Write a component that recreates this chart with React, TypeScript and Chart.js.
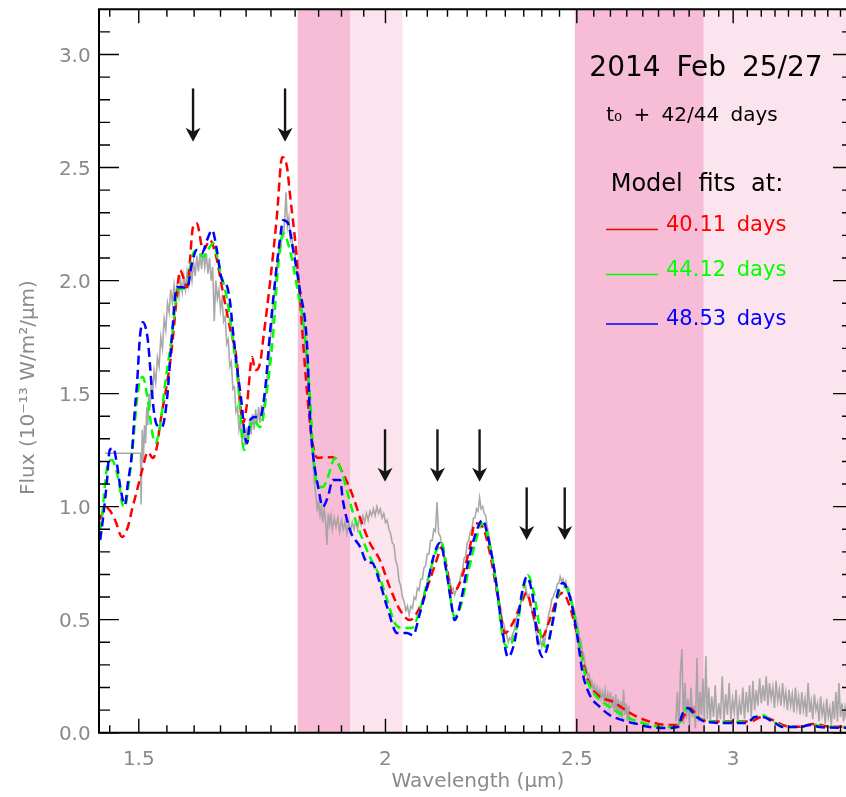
import React, { useEffect, useRef } from "react";
import { Chart, registerables } from "chart.js";

Chart.register(...registerables);

// ---------------- data ----------------
const xRange = [1.432, 3.45];
const yRange = [0, 3.2];

const xMajorTicks = [1.5, 2, 2.5, 3];
const xMajorLabels = ["1.5", "2", "2.5", "3"];
const xMinorTicks = [1.45, 1.55, 1.6, 1.65, 1.7, 1.75, 1.8, 1.85, 1.9, 1.95, 2.05, 2.1, 2.15, 2.2, 2.25, 2.3, 2.35, 2.4, 2.45, 2.55, 2.6, 2.65, 2.7, 2.75, 2.8, 2.85, 2.9, 2.95, 3.05, 3.1, 3.15, 3.2, 3.25, 3.3, 3.35, 3.4];
const yMajorTicks = [0, 0.5, 1, 1.5, 2, 2.5, 3];
const yMajorLabels = ["0.0", "0.5", "1.0", "1.5", "2.0", "2.5", "3.0"];
const yMinorTicks = [0.1, 0.2, 0.3, 0.4, 0.6, 0.7, 0.8, 0.9, 1.1, 1.2, 1.3, 1.4, 1.6, 1.7, 1.8, 1.9, 2.1, 2.2, 2.3, 2.4, 2.6, 2.7, 2.8, 2.9, 3.1];

const bandStart = [1.8055, 1.919, 2.494, 2.899];
const bandEnd = [1.919, 2.04, 2.899, 3.45];
const bandKind = ["strong", "weak", "strong", "weak"];

const arrowWave = [1.598, 1.779, 1.999, 2.125, 2.232, 2.358, 2.465];
const arrowTop = [2.85, 2.85, 1.342, 1.342, 1.342, 1.085, 1.085];
const arrowTip = [2.614, 2.614, 1.11, 1.11, 1.11, 0.852, 0.852];

const titleText = "2014 Feb 25/27";
const epochText = "t\u2080 + 42/44 days";
const legendTitle = "Model fits at:";
const seriesLabels = ["40.11 days", "44.12 days", "48.53 days"];
const xTitle = "Wavelength (\u00B5m)";
const yTitle = "Flux (10\u207B\u00B9\u00B3 W/m\u00B2/\u00B5m)";

const observed: [number, number | null][] = [
  [1.442, 1.236], [1.503, 1.236], [1.504, 1.01], [1.506, 1.34], [1.508, 1.2], [1.51, 1.36], [1.512, 1.28], [1.514, 1.44],
  [1.516, 1.36], [1.518, 1.5], [1.52, 1.44], [1.522, 1.56], [1.524, 1.49], [1.527, 1.6], [1.53, 1.55], [1.533, 1.66],
  [1.536, 1.62], [1.539, 1.75], [1.542, 1.7], [1.545, 1.83], [1.548, 1.78], [1.551, 1.9], [1.554, 1.86], [1.557, 1.96],
  [1.56, 1.9], [1.563, 1.98], [1.566, 1.92], [1.569, 1.99], [1.572, 1.93], [1.575, 2.0], [1.578, 1.95], [1.581, 2.02],
  [1.584, 1.96], [1.587, 2.04], [1.59, 1.98], [1.593, 2.06], [1.596, 2.0], [1.599, 2.08], [1.602, 2.02], [1.605, 2.11],
  [1.608, 2.04], [1.611, 2.12], [1.614, 2.05], [1.617, 2.13], [1.62, 2.06], [1.623, 2.12], [1.626, 2.03], [1.629, 2.1],
  [1.632, 2.0], [1.635, 2.06], [1.638, 1.82], [1.641, 2.0], [1.644, 1.92], [1.647, 1.96], [1.65, 1.87], [1.653, 1.92],
  [1.656, 1.82], [1.659, 1.84], [1.662, 1.72], [1.665, 1.74], [1.668, 1.62], [1.671, 1.64], [1.674, 1.52], [1.677, 1.53],
  [1.68, 1.42], [1.683, 1.44], [1.686, 1.34], [1.689, 1.38], [1.692, 1.28], [1.695, 1.34], [1.698, 1.27], [1.701, 1.35],
  [1.704, 1.29], [1.707, 1.38], [1.71, 1.32], [1.713, 1.41], [1.716, 1.34], [1.719, 1.43], [1.722, 1.36], [1.725, 1.44],
  [1.728, 1.37], [1.731, 1.45], [1.734, 1.39], [1.737, 1.48], [1.74, 1.5], [1.743, 1.6], [1.746, 1.63], [1.749, 1.75],
  [1.752, 1.8], [1.755, 1.92], [1.758, 1.96], [1.761, 2.06], [1.764, 2.08], [1.767, 2.16], [1.77, 2.14], [1.773, 2.22],
  [1.776, 2.2], [1.779, 2.3], [1.781, 2.39], [1.784, 2.24], [1.787, 2.28], [1.79, 2.18], [1.793, 2.2], [1.796, 2.12],
  [1.799, 2.13], [1.802, 2.05], [1.805, 2.03], [1.808, 1.98], [1.811, 1.95], [1.814, 1.88], [1.817, 1.83], [1.82, 1.74],
  [1.823, 1.66], [1.826, 1.58], [1.829, 1.48], [1.832, 1.38], [1.835, 1.27], [1.838, 1.2], [1.841, 1.1], [1.844, 1.05],
  [1.847, 0.99], [1.85, 1.02], [1.853, 0.96], [1.856, 1.0], [1.859, 0.93], [1.862, 0.99], [1.865, 0.94], [1.868, 0.83],
  [1.871, 0.97], [1.874, 0.92], [1.877, 0.96], [1.88, 0.9], [1.884, 0.95], [1.888, 0.91], [1.892, 0.95], [1.896, 0.89],
  [1.9, 0.94], [1.904, 0.9], [1.908, 0.93], [1.912, 0.88], [1.916, 0.93], [1.92, 0.89], [1.924, 0.93], [1.928, 0.9],
  [1.932, 0.94], [1.936, 0.9], [1.94, 0.95], [1.944, 0.92], [1.948, 0.96], [1.952, 0.93], [1.956, 0.97], [1.96, 0.94],
  [1.964, 0.98], [1.968, 0.96], [1.972, 0.99], [1.976, 0.96], [1.98, 1.0], [1.984, 0.97], [1.988, 0.99], [1.992, 0.95],
  [1.996, 0.97], [2.0, 0.93], [2.004, 0.94], [2.008, 0.9], [2.012, 0.88], [2.016, 0.84], [2.02, 0.83], [2.024, 0.76],
  [2.028, 0.74], [2.032, 0.67], [2.036, 0.65], [2.04, 0.6], [2.044, 0.58], [2.048, 0.54], [2.052, 0.56], [2.056, 0.52],
  [2.06, 0.56], [2.064, 0.55], [2.068, 0.6], [2.072, 0.59], [2.076, 0.64], [2.08, 0.63], [2.084, 0.68], [2.088, 0.68],
  [2.092, 0.73], [2.096, 0.74], [2.1, 0.79], [2.104, 0.79], [2.108, 0.85], [2.112, 0.85], [2.116, 0.9], [2.12, 0.89],
  [2.124, 1.02], [2.128, 0.88], [2.132, 0.87], [2.136, 0.82], [2.14, 0.79], [2.144, 0.74], [2.148, 0.72], [2.152, 0.68],
  [2.156, 0.68], [2.16, 0.63], [2.164, 0.64], [2.168, 0.61], [2.172, 0.63], [2.176, 0.64], [2.18, 0.66], [2.184, 0.7],
  [2.188, 0.72], [2.192, 0.77], [2.196, 0.78], [2.2, 0.84], [2.204, 0.85], [2.208, 0.89], [2.212, 0.9], [2.216, 0.95],
  [2.22, 0.95], [2.224, 0.99], [2.228, 0.98], [2.232, 1.04], [2.236, 0.99], [2.24, 1.0], [2.244, 0.97], [2.248, 0.96],
  [2.252, 0.91], [2.256, 0.88], [2.26, 0.84], [2.264, 0.79], [2.268, 0.75], [2.272, 0.72], [2.276, 0.66], [2.28, 0.63],
  [2.284, 0.58], [2.288, 0.55], [2.292, 0.5], [2.296, 0.48], [2.3, 0.45], [2.304, 0.43], [2.308, 0.4], [2.312, 0.42],
  [2.316, 0.41], [2.32, 0.44], [2.324, 0.45], [2.328, 0.5], [2.332, 0.52], [2.336, 0.55], [2.34, 0.56], [2.344, 0.59],
  [2.348, 0.62], [2.352, 0.6], [2.356, 0.64], [2.36, 0.6], [2.364, 0.61], [2.368, 0.56], [2.372, 0.55], [2.376, 0.5],
  [2.38, 0.49], [2.384, 0.44], [2.388, 0.43], [2.392, 0.39], [2.396, 0.41], [2.4, 0.38], [2.404, 0.42], [2.408, 0.4],
  [2.412, 0.45], [2.416, 0.48], [2.42, 0.53], [2.424, 0.55], [2.428, 0.59], [2.432, 0.6], [2.436, 0.62], [2.44, 0.63],
  [2.444, 0.66], [2.448, 0.66], [2.452, 0.69], [2.456, 0.67], [2.46, 0.68], [2.464, 0.65], [2.468, 0.67], [2.472, 0.63],
  [2.476, 0.64], [2.48, 0.61], [2.484, 0.6], [2.488, 0.56], [2.492, 0.55], [2.496, 0.52], [2.5, 0.49], [2.504, 0.46],
  [2.508, 0.42], [2.512, 0.41], [2.516, 0.36], [2.52, 0.35], [2.524, 0.3], [2.528, 0.29], [2.532, 0.25], [2.536, 0.26],
  [2.54, 0.22], [2.544, 0.23], [2.548, 0.19], [2.552, 0.21], [2.556, 0.17], [2.56, 0.2], [2.564, 0.16], [2.568, 0.19],
  [2.572, 0.15], [2.576, 0.18], [2.58, 0.14], [2.584, 0.19], [2.588, 0.13], [2.592, 0.17], [2.596, 0.12], [2.6, 0.18],
  [2.604, 0.11], [2.608, 0.16], [2.612, 0.09], [2.616, 0.17], [2.62, 0.08], [2.624, 0.15], [2.628, 0.07], [2.632, 0.14],
  [2.636, 0.06], [2.64, 0.19], [2.644, 0.08], [2.648, 0.13], [2.652, 0.05], [2.656, 0.12], [2.66, 0.04],
  [2.73, null],
  [2.806, 0.05], [2.811, 0.18], [2.816, 0.02], [2.821, 0.26], [2.826, 0.37], [2.831, 0.04], [2.836, 0.22], [2.841, 0.06],
  [2.846, 0.15], [2.851, 0.03], [2.856, 0.2], [2.861, 0.07], [2.866, 0.12], [2.871, 0.02], [2.876, 0.33], [2.881, 0.05],
  [2.886, 0.18], [2.891, 0.08], [2.896, 0.24], [2.901, 0.04], [2.906, 0.34], [2.911, 0.06], [2.916, 0.2], [2.921, 0.05],
  [2.926, 0.16], [2.932, 0.07], [2.938, 0.21], [2.944, 0.04], [2.95, 0.13], [2.956, 0.06], [2.962, 0.25], [2.968, 0.05],
  [2.974, 0.17], [2.98, 0.08], [2.986, 0.22], [2.992, 0.06], [2.998, 0.15], [3.004, 0.09], [3.01, 0.19], [3.016, 0.05],
  [3.022, 0.14], [3.028, 0.08], [3.034, 0.2], [3.04, 0.06], [3.046, 0.18], [3.052, 0.09], [3.058, 0.21], [3.064, 0.07],
  [3.07, 0.23], [3.076, 0.1], [3.082, 0.19], [3.088, 0.12], [3.094, 0.24], [3.1, 0.13], [3.106, 0.21], [3.112, 0.14],
  [3.118, 0.25], [3.124, 0.12], [3.13, 0.22], [3.136, 0.15], [3.142, 0.2], [3.148, 0.11], [3.154, 0.23], [3.16, 0.14],
  [3.166, 0.19], [3.172, 0.12], [3.178, 0.22], [3.184, 0.13], [3.19, 0.18], [3.196, 0.1], [3.202, 0.19], [3.208, 0.12],
  [3.214, 0.17], [3.22, 0.09], [3.226, 0.2], [3.232, 0.11], [3.238, 0.16], [3.244, 0.08], [3.25, 0.18], [3.256, 0.1],
  [3.262, 0.15], [3.268, 0.07], [3.274, 0.22], [3.28, 0.09], [3.286, 0.14], [3.292, 0.06], [3.298, 0.17], [3.304, 0.1],
  [3.31, 0.13], [3.316, 0.05], [3.322, 0.16], [3.328, 0.08], [3.334, 0.12], [3.34, 0.04], [3.346, 0.15], [3.352, 0.07],
  [3.358, 0.11], [3.364, 0.03], [3.37, 0.14], [3.376, 0.06], [3.382, 0.18], [3.388, 0.05], [3.394, 0.22], [3.4, 0.07],
  [3.406, 0.13], [3.412, 0.05], [3.418, 0.11], [3.424, 0.06], [3.43, 0.12], [3.436, 0.04], [3.442, 0.1], [3.448, 0.05],
];

const fit4011: [number, number][] = [
  [1.432, 0.941], [1.445, 0.994], [1.459, 0.941], [1.471, 0.866], [1.481, 0.91], [1.488, 0.985], [1.497, 1.073],
  [1.506, 1.162], [1.516, 1.241], [1.525, 1.215], [1.532, 1.264], [1.538, 1.37], [1.547, 1.5], [1.556, 1.64],
  [1.561, 1.75], [1.568, 1.93], [1.574, 2.045], [1.587, 1.971], [1.598, 2.237], [1.605, 2.254], [1.617, 2.134],
  [1.63, 2.178], [1.641, 2.112], [1.655, 1.944], [1.668, 1.794], [1.682, 1.635], [1.688, 1.459], [1.694, 1.37],
  [1.702, 1.459], [1.712, 1.662], [1.718, 1.604], [1.728, 1.635], [1.734, 1.737], [1.748, 1.989], [1.762, 2.281],
  [1.773, 2.546], [1.783, 2.503], [1.789, 2.386], [1.802, 2.134], [1.812, 1.869], [1.823, 1.56], [1.836, 1.294],
  [1.847, 1.216], [1.868, 1.219], [1.881, 1.219], [1.903, 1.148], [1.923, 1.059], [1.946, 0.927], [1.964, 0.839],
  [1.987, 0.764], [2.01, 0.644], [2.034, 0.543], [2.058, 0.498], [2.082, 0.556], [2.106, 0.675], [2.123, 0.764],
  [2.136, 0.821], [2.148, 0.733], [2.161, 0.618], [2.181, 0.662], [2.207, 0.821], [2.22, 0.927], [2.24, 0.91],
  [2.259, 0.795], [2.28, 0.6], [2.299, 0.441], [2.32, 0.485], [2.339, 0.556], [2.358, 0.618], [2.375, 0.529],
  [2.4, 0.423], [2.422, 0.498], [2.445, 0.6], [2.459, 0.618], [2.48, 0.556], [2.5, 0.441], [2.517, 0.322],
  [2.535, 0.224], [2.568, 0.159], [2.607, 0.137], [2.638, 0.108], [2.681, 0.071], [2.722, 0.049], [2.776, 0.034],
  [2.812, 0.034], [2.829, 0.065], [2.852, 0.108], [2.885, 0.064], [2.929, 0.049], [2.999, 0.049], [3.059, 0.049],
  [3.105, 0.071], [3.142, 0.056], [3.193, 0.029], [3.242, 0.026], [3.292, 0.038], [3.369, 0.026], [3.45, 0.026],
];

const fit4412: [number, number][] = [
  [1.434, 0.896], [1.437, 0.954], [1.442, 1.096], [1.447, 1.193], [1.454, 1.206], [1.461, 1.162], [1.466, 1.104],
  [1.471, 1.016], [1.476, 1.0], [1.481, 1.073], [1.488, 1.228], [1.497, 1.471], [1.502, 1.559], [1.507, 1.573],
  [1.516, 1.471], [1.523, 1.339], [1.529, 1.281], [1.538, 1.361], [1.547, 1.547], [1.559, 1.75], [1.57, 1.958],
  [1.587, 1.971], [1.596, 2.104], [1.605, 2.135], [1.617, 2.104], [1.626, 2.135], [1.636, 2.165], [1.649, 2.046],
  [1.663, 1.914], [1.674, 1.737], [1.684, 1.546], [1.696, 1.25], [1.714, 1.383], [1.728, 1.352], [1.742, 1.516],
  [1.754, 1.75], [1.764, 2.046], [1.775, 2.209], [1.789, 2.135], [1.804, 1.971], [1.821, 1.75], [1.832, 1.47],
  [1.838, 1.25], [1.849, 1.087], [1.859, 1.087], [1.87, 1.131], [1.886, 1.215], [1.897, 1.175], [1.912, 1.073],
  [1.926, 0.971], [1.942, 0.883], [1.964, 0.777], [1.983, 0.706], [2.004, 0.587], [2.022, 0.485], [2.041, 0.463],
  [2.062, 0.463], [2.082, 0.543], [2.101, 0.675], [2.123, 0.808], [2.136, 0.839], [2.151, 0.675], [2.168, 0.512],
  [2.186, 0.574], [2.202, 0.706], [2.225, 0.865], [2.238, 0.927], [2.254, 0.865], [2.277, 0.644], [2.293, 0.423],
  [2.307, 0.379], [2.331, 0.467], [2.347, 0.618], [2.361, 0.697], [2.38, 0.6], [2.4, 0.41], [2.414, 0.379],
  [2.431, 0.498], [2.451, 0.631], [2.465, 0.644], [2.488, 0.556], [2.509, 0.379], [2.523, 0.264], [2.544, 0.189],
  [2.568, 0.145], [2.598, 0.114], [2.65, 0.069], [2.7, 0.043], [2.764, 0.025], [2.812, 0.025], [2.829, 0.087],
  [2.845, 0.104], [2.875, 0.069], [2.909, 0.052], [2.978, 0.047], [3.048, 0.047], [3.077, 0.069], [3.105, 0.078],
  [3.138, 0.052], [3.179, 0.029], [3.242, 0.025], [3.292, 0.038], [3.319, 0.029], [3.45, 0.025],
];

const fit4853: [number, number][] = [
  [1.434, 0.852], [1.439, 0.954], [1.445, 1.104], [1.45, 1.25], [1.456, 1.259], [1.462, 1.193], [1.468, 1.087],
  [1.476, 1.008], [1.481, 1.104], [1.488, 1.237], [1.493, 1.427], [1.497, 1.546], [1.502, 1.75], [1.507, 1.816],
  [1.516, 1.736], [1.52, 1.617], [1.525, 1.458], [1.532, 1.361], [1.541, 1.352], [1.55, 1.471], [1.559, 1.75],
  [1.568, 1.971], [1.578, 1.971], [1.587, 1.967], [1.596, 2.077], [1.605, 2.135], [1.615, 2.122], [1.624, 2.178],
  [1.634, 2.223], [1.643, 2.135], [1.653, 2.002], [1.659, 1.993], [1.668, 1.914], [1.674, 1.78], [1.682, 1.617],
  [1.692, 1.44], [1.696, 1.339], [1.702, 1.281], [1.708, 1.383], [1.718, 1.396], [1.728, 1.396], [1.738, 1.516],
  [1.748, 1.768], [1.758, 1.989], [1.769, 2.192], [1.775, 2.267], [1.785, 2.254], [1.796, 2.135], [1.81, 1.958],
  [1.825, 1.723], [1.832, 1.38], [1.838, 1.23], [1.849, 1.087], [1.859, 1.0], [1.87, 1.043], [1.881, 1.118],
  [1.897, 1.118], [1.903, 1.029], [1.919, 0.896], [1.942, 0.821], [1.957, 0.755], [1.969, 0.751], [1.987, 0.663],
  [2.006, 0.543], [2.027, 0.441], [2.05, 0.441], [2.065, 0.432], [2.082, 0.529], [2.099, 0.644], [2.113, 0.764],
  [2.131, 0.839], [2.148, 0.706], [2.161, 0.556], [2.168, 0.498], [2.186, 0.6], [2.202, 0.751], [2.225, 0.897],
  [2.24, 0.941], [2.254, 0.865], [2.272, 0.706], [2.291, 0.467], [2.307, 0.335], [2.326, 0.41], [2.345, 0.618],
  [2.358, 0.689], [2.375, 0.6], [2.389, 0.397], [2.403, 0.335], [2.428, 0.467], [2.445, 0.618], [2.459, 0.662],
  [2.48, 0.6], [2.5, 0.441], [2.517, 0.264], [2.538, 0.167], [2.568, 0.114], [2.598, 0.078], [2.644, 0.052],
  [2.681, 0.039], [2.722, 0.025], [2.776, 0.021], [2.812, 0.025], [2.829, 0.087], [2.845, 0.109], [2.875, 0.069],
  [2.909, 0.047], [2.978, 0.043], [3.048, 0.043], [3.077, 0.069], [3.105, 0.069], [3.138, 0.052], [3.179, 0.025],
  [3.242, 0.025], [3.28, 0.034], [3.319, 0.025], [3.45, 0.021],
];

// ---------------- styles ----------------
const CANVAS_W = 870;
const CANVAS_H = 797;
const AREA = { left: 99, top: 9.3, right: 853, bottom: 732.7 };
const FONT = '"DejaVu Sans", "Liberation Sans", sans-serif';
const LABEL_GRAY = "#8a8a8a";
const PINK_STRONG = "#f7bdd6";
const PINK_WEAK = "#fce4ee";
const SERIES_COLORS = ["#ff0000", "#00ff00", "#0000ff"];
const OBS_COLOR = "rgba(160,160,160,0.9)";

function drawText(ctx: any, text: string, x: number, y: number, font: string, color: string, align: string, wordSpacing: string) {
  ctx.save();
  ctx.font = font;
  ctx.fillStyle = color;
  ctx.textAlign = align;
  ctx.textBaseline = "alphabetic";
  try { ctx.wordSpacing = wordSpacing; } catch (e) { /* ignore */ }
  ctx.fillText(text, x, y);
  ctx.restore();
}

const decorPlugin = {
  id: "decor",
  beforeDatasetsDraw(chart: any) {
    const { ctx, chartArea: a, scales } = chart;
    const xs = scales.x;
    ctx.save();
    ctx.beginPath();
    ctx.rect(a.left, a.top, a.right - a.left, a.bottom - a.top);
    ctx.clip();
    for (let i = 0; i < bandStart.length; i++) {
      const x0 = xs.getPixelForValue(bandStart[i]);
      const x1 = xs.getPixelForValue(bandEnd[i]);
      ctx.fillStyle = bandKind[i] === "strong" ? PINK_STRONG : PINK_WEAK;
      ctx.fillRect(x0, a.top, x1 - x0, a.bottom - a.top);
    }
    ctx.restore();
  },
  afterDatasetsDraw(chart: any) {
    const { ctx, scales } = chart;
    const xs = scales.x;
    const ys = scales.y;
    ctx.save();
    ctx.strokeStyle = "#151515";
    ctx.fillStyle = "#151515";
    ctx.lineWidth = 2.4;
    for (let i = 0; i < arrowWave.length; i++) {
      const px = xs.getPixelForValue(arrowWave[i]);
      const yt = ys.getPixelForValue(arrowTop[i]);
      const yb = ys.getPixelForValue(arrowTip[i]);
      ctx.beginPath();
      ctx.moveTo(px, yt);
      ctx.lineTo(px, yb - 8);
      ctx.stroke();
      ctx.beginPath();
      ctx.moveTo(px, yb);
      ctx.lineTo(px - 7.5, yb - 14);
      ctx.lineTo(px, yb - 10);
      ctx.lineTo(px + 7.5, yb - 14);
      ctx.closePath();
      ctx.fill();
    }
    ctx.restore();

    drawText(ctx, titleText, 706, 76, `28px ${FONT}`, "#000", "center", "7px");
    drawText(ctx, epochText, 692, 121, `20px ${FONT}`, "#000", "center", "5px");
    drawText(ctx, legendTitle, 697, 190.5, `24px ${FONT}`, "#000", "center", "8px");
    const legY = [229.5, 274.5, 324];
    const legBase = [230.5, 275.7, 325];
    for (let i = 0; i < seriesLabels.length; i++) {
      ctx.save();
      ctx.strokeStyle = SERIES_COLORS[i];
      ctx.lineWidth = 1.5;
      ctx.beginPath();
      ctx.moveTo(606, legY[i]);
      ctx.lineTo(658, legY[i]);
      ctx.stroke();
      ctx.restore();
      drawText(ctx, seriesLabels[i], 666, legBase[i], `21px ${FONT}`, SERIES_COLORS[i], "left", "4px");
    }
  },
  afterDraw(chart: any) {
    const { ctx, chartArea: a, scales } = chart;
    const xs = scales.x;
    const ys = scales.y;
    ctx.save();
    ctx.strokeStyle = "#000";
    ctx.lineWidth = 2;
    ctx.beginPath();
    ctx.moveTo(a.left, a.top);
    ctx.lineTo(a.right, a.top);
    ctx.lineTo(a.right, a.bottom);
    ctx.lineTo(a.left, a.bottom);
    ctx.closePath();
    ctx.stroke();

    ctx.lineWidth = 1.4;
    const xTick = (v: number, len: number) => {
      const px = xs.getPixelForValue(v);
      ctx.beginPath();
      ctx.moveTo(px, a.bottom);
      ctx.lineTo(px, a.bottom - len);
      ctx.moveTo(px, a.top);
      ctx.lineTo(px, a.top + len);
      ctx.stroke();
    };
    const yTick = (v: number, len: number) => {
      const py = ys.getPixelForValue(v);
      ctx.beginPath();
      ctx.moveTo(a.left, py);
      ctx.lineTo(a.left + len, py);
      ctx.moveTo(a.right, py);
      ctx.lineTo(a.right - len, py);
      ctx.stroke();
    };
    xMajorTicks.forEach((v) => xTick(v, 14));
    xMinorTicks.forEach((v) => xTick(v, 7.5));
    yMajorTicks.forEach((v) => yTick(v, 20));
    yMinorTicks.forEach((v) => yTick(v, 11));
    ctx.restore();

    xMajorTicks.forEach((v, i) => {
      drawText(ctx, xMajorLabels[i], xs.getPixelForValue(v), a.bottom + 32.5, `20px ${FONT}`, LABEL_GRAY, "center", "0px");
    });
    yMajorTicks.forEach((v, i) => {
      drawText(ctx, yMajorLabels[i], a.left - 8.3, ys.getPixelForValue(v) + 7.5, `20px ${FONT}`, LABEL_GRAY, "right", "0px");
    });
    drawText(ctx, xTitle, 478, 787, `20px ${FONT}`, LABEL_GRAY, "center", "0px");
    ctx.save();
    ctx.translate(33.5, 495);
    ctx.rotate(-Math.PI / 2);
    drawText(ctx, yTitle, 0, 0, `20px ${FONT}`, LABEL_GRAY, "left", "0px");
    ctx.restore();
  },
};

export default function App() {
  const canvasRef = useRef<HTMLCanvasElement | null>(null);

  useEffect(() => {
    const canvas = canvasRef.current;
    if (!canvas) return;
    const toXY = (arr: [number, number | null][]) => arr.map(([x, y]) => ({ x, y }));
    const fitStyle = (color: string) => ({
      borderColor: color,
      borderWidth: 2.5,
      borderDash: [9, 5],
      pointRadius: 0,
      cubicInterpolationMode: "monotone" as const,
      fill: false,
    });
    const chart = new Chart(canvas, {
      type: "line",
      data: {
        datasets: [
          { label: "observed", data: toXY(observed), borderColor: OBS_COLOR, borderWidth: 1.6, pointRadius: 0, tension: 0, spanGaps: false, fill: false, order: 4 } as any,
          { label: seriesLabels[0], data: toXY(fit4011), ...fitStyle(SERIES_COLORS[0]), order: 3 } as any,
          { label: seriesLabels[1], data: toXY(fit4412), ...fitStyle(SERIES_COLORS[1]), order: 2 } as any,
          { label: seriesLabels[2], data: toXY(fit4853), ...fitStyle(SERIES_COLORS[2]), order: 1 } as any,
        ],
      },
      options: {
        animation: false,
        responsive: false,
        devicePixelRatio: 1,
        events: [],
        layout: {
          padding: {
            left: AREA.left,
            top: AREA.top,
            right: CANVAS_W - AREA.right,
            bottom: CANVAS_H - AREA.bottom,
          },
        },
        plugins: { legend: { display: false }, tooltip: { enabled: false }, title: { display: false } },
        scales: {
          x: { type: "logarithmic", min: xRange[0], max: xRange[1], display: false },
          y: { type: "linear", min: yRange[0], max: yRange[1], display: false },
        },
      } as any,
      plugins: [decorPlugin as any],
    });
    return () => chart.destroy();
  }, []);

  return (
    <div style={{ position: "fixed", left: 0, top: 0, width: 846, height: 797, overflow: "hidden", background: "#fff" }}>
      <canvas ref={canvasRef} width={CANVAS_W} height={CANVAS_H} style={{ display: "block" }} />
    </div>
  );
}
